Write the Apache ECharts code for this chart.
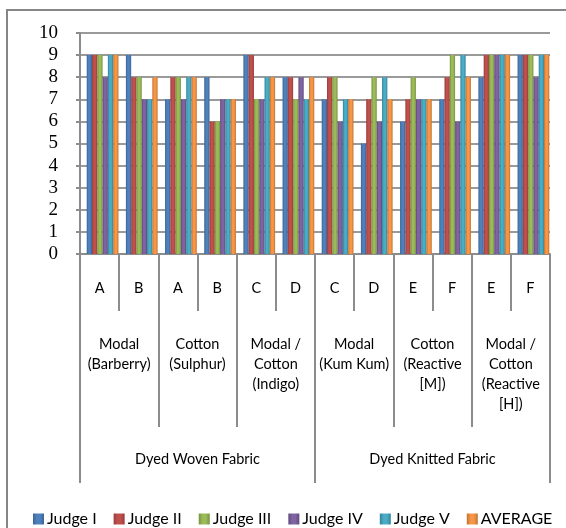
<!DOCTYPE html>
<html>
<head>
<meta charset="utf-8">
<script src="https://cdn.jsdelivr.net/npm/echarts@6/dist/echarts.min.js"></script>
<style>
  html, body { margin: 0; padding: 0; background: #fff; }
  #chart { width: 566px; height: 528px; }
</style>
</head>
<body>
<div id="chart"></div>
<script>
// Sample codes (first axis level), fabric/dye (second level), fabric type (third level)
const sampleCodes = ['A', 'B', 'A', 'B', 'C', 'D', 'C', 'D', 'E', 'F', 'E', 'F'];
const materials = [
  'Modal\n(Barberry)',
  'Cotton\n(Sulphur)',
  'Modal /\nCotton\n(Indigo)',
  'Modal\n(Kum Kum)',
  'Cotton\n(Reactive\n[M])',
  'Modal /\nCotton\n(Reactive\n[H])'
];
const fabricTypes = ['Dyed Woven Fabric', 'Dyed Knitted Fabric'];

// Scores per judge, one value per sample
const judgeI   = [9, 9, 7, 8, 9, 8, 7, 5, 6, 7, 8, 9];
const judgeII  = [9, 8, 8, 6, 9, 8, 8, 7, 7, 8, 9, 9];
const judgeIII = [9, 8, 8, 6, 7, 7, 8, 8, 8, 9, 9, 9];
const judgeIV  = [8, 7, 7, 7, 7, 8, 6, 6, 7, 6, 9, 8];
const judgeV   = [9, 7, 8, 7, 8, 7, 7, 8, 7, 9, 9, 9];
const average  = [9, 8, 8, 7, 8, 8, 7, 7, 7, 8, 9, 9];

const seriesNames = ['Judge I', 'Judge II', 'Judge III', 'Judge IV', 'Judge V', 'AVERAGE'];
const seriesData = [judgeI, judgeII, judgeIII, judgeIV, judgeV, average];
const seriesColors = ['#4F81BD', '#C0504D', '#9BBB59', '#8064A2', '#4BACC6', '#F79646'];
const darkColors   = ['#3a6496', '#963c3a', '#76923c', '#5f4a7b', '#31849b', '#c0722f'];

const yTicks = { min: 0, max: 10, interval: 1 };

const axisGrey = '#8c8c8c';
const labelFont = 'Lato, "Open Sans", sans-serif';

const chart = echarts.init(document.getElementById('chart'), null, { renderer: 'canvas' });

function levelAxis(data, tickLen, margin, showLine) {
  return {
    type: 'category',
    gridIndex: 0,
    position: 'bottom',
    data: data,
    boundaryGap: true,
    axisLine: { show: showLine, lineStyle: { color: axisGrey, width: 2 } },
    axisTick: { show: true, interval: 0, length: tickLen, lineStyle: { color: axisGrey, width: 2 } },
    axisLabel: {
      interval: 0, margin: margin, color: '#000',
      fontFamily: labelFont, fontSize: 14.5, lineHeight: 20, align: 'center'
    },
    splitLine: { show: false }
  };
}

const option = {
  animation: false,
  backgroundColor: '#fff',
  graphic: [{
    type: 'rect',
    shape: { x: 7, y: 10, width: 580, height: 540 },
    style: { fill: 'none', stroke: '#868686', lineWidth: 2 },
    silent: true, z: -10
  }],
  grid: [
    { left: 80, right: 16, top: 33, bottom: 274 },
    { left: 83, right: 13, top: 33, bottom: 274 }
  ],
  xAxis: [
    levelAxis(sampleCodes, 57, 24, true),
    levelAxis(materials, 173, 80, false),
    levelAxis(fabricTypes, 229, 195, false),
    {
      type: 'category', gridIndex: 1, data: sampleCodes, show: false
    }
  ],
  yAxis: [
    {
      type: 'value', gridIndex: 0,
      min: yTicks.min, max: yTicks.max, interval: yTicks.interval,
      axisLine: { show: true, lineStyle: { color: axisGrey, width: 2 } },
      axisTick: { show: true, length: 4, lineStyle: { color: axisGrey, width: 2 } },
      axisLabel: {
        margin: 22, color: '#000', fontSize: 19,
        fontFamily: '"Liberation Serif", "DejaVu Serif", serif'
      },
      splitLine: { show: true, lineStyle: { color: '#9a9a9a', width: 2 } }
    },
    {
      type: 'value', gridIndex: 1,
      min: yTicks.min, max: yTicks.max, interval: yTicks.interval, show: false,
      splitLine: { show: false }
    }
  ],
  legend: {
    left: 33, top: 511, padding: 0,
    itemWidth: 11, itemHeight: 11, itemGap: 17,
    icon: 'rect',
    textStyle: { fontFamily: labelFont, fontSize: 16, color: '#000', padding: [0, 0, 0, -2] },
    data: seriesNames
  },
  series: seriesNames.map((name, i) => ({
    name: name,
    type: 'bar',
    xAxisIndex: 3,
    yAxisIndex: 1,
    data: seriesData[i],
    barGap: '0%',
    barCategoryGap: '19%',
    itemStyle: {
      color: new echarts.graphic.LinearGradient(0, 0, 1, 0, [
        { offset: 0, color: darkColors[i] },
        { offset: 0.35, color: seriesColors[i] },
        { offset: 0.65, color: seriesColors[i] },
        { offset: 1, color: darkColors[i] }
      ])
    }
  }))
};

chart.setOption(option);
</script>
</body>
</html>
